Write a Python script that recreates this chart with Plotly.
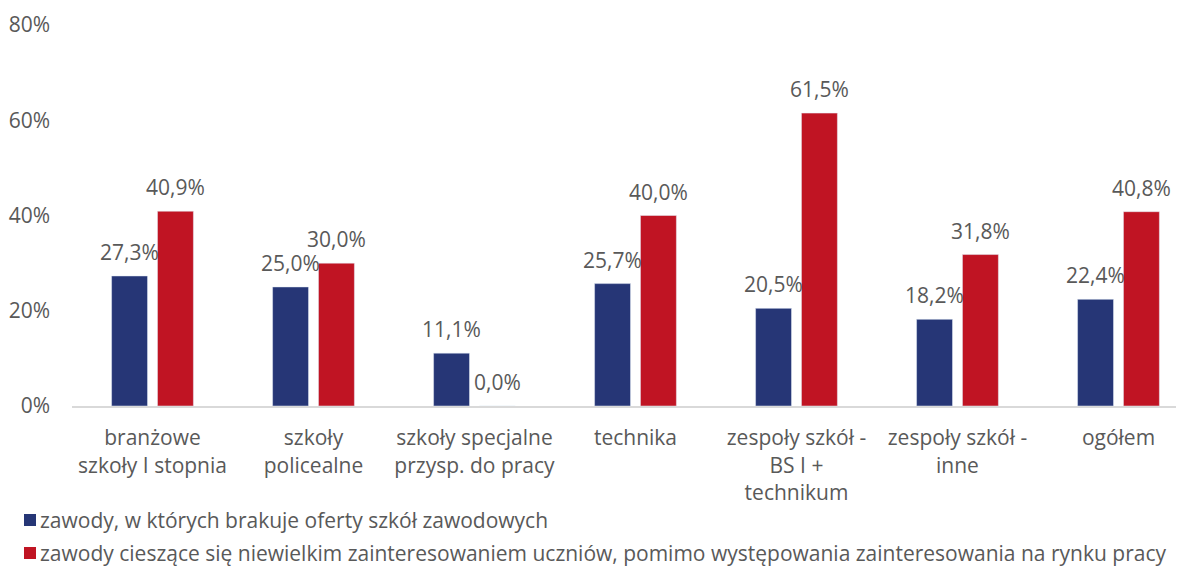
import plotly.graph_objects as go

categories = ["branżowe<br>szkoły I stopnia", "szkoły<br>policealne",
              "szkoły specjalne<br>przysp. do pracy", "technika",
              "zespoły szkół -<br>BS I +<br>technikum", "zespoły szkół -<br>inne", "ogółem"]
series_names = ["zawody, w których brakuje oferty szkół zawodowych",
                "zawody cieszące się niewielkim zainteresowaniem uczniów, pomimo występowania zainteresowania na rynku pracy"]
blue_vals = [0.273, 0.250, 0.111, 0.257, 0.205, 0.182, 0.224]
red_vals = [0.409, 0.300, 0.000, 0.400, 0.615, 0.318, 0.408]
y_ticks = [0, 0.2, 0.4, 0.6, 0.8]
y_tick_labels = ["0%", "20%", "40%", "60%", "80%"]

BLUE = "#263676"
RED = "#C01423"
TEXT = "#595959"
FONT = "Open Sans"
FS = 21

W, H = 1176, 559
L, T, B, R = 64, 17, 161, 0
PW, PH = W - L - R, H - T - B

x_idx = list(range(len(categories)))
colors = [BLUE, RED]
all_vals = [blue_vals, red_vals]

fig = go.Figure()
for name, vals, col in zip(series_names, all_vals, colors):
    fig.add_trace(go.Bar(x=x_idx, y=vals, name=name, marker_color=col, showlegend=False))

def fmt(v):
    return f"{v*100:.1f}%".replace(".", ",")

for vals, shift in zip(all_vals, (-23, 23)):
    for i, v in enumerate(vals):
        fig.add_annotation(x=i, y=v, text=fmt(v), showarrow=False, xshift=shift,
                           yanchor="bottom", yshift=8,
                           font=dict(family=FONT, size=FS, color=TEXT))

# legend drawn below the plot (pixel positions converted to paper coords)
def px_to_paper_x(px):
    return (px - L) / PW

def py_to_paper_y(py):
    return (T + PH - py) / PH

legend_rows_y = [512, 545]
for name, col, ry in zip(series_names, colors, legend_rows_y):
    fig.add_shape(type="rect", xref="paper", yref="paper",
                  xsizemode="pixel", ysizemode="pixel",
                  xanchor=px_to_paper_x(16), yanchor=py_to_paper_y(ry),
                  x0=0, x1=12, y0=-6, y1=6,
                  fillcolor=col, line_width=0)
    fig.add_annotation(xref="paper", yref="paper", x=px_to_paper_x(31),
                       y=py_to_paper_y(ry), xanchor="left", yanchor="middle",
                       text=name, showarrow=False, borderpad=0,
                       font=dict(family=FONT, size=FS, color=TEXT))

fig.update_layout(
    width=W, height=H,
    margin=dict(l=L, r=R, t=T, b=B, autoexpand=False),
    plot_bgcolor="white", paper_bgcolor="white",
    barmode="group", bargap=0.43, bargroupgap=0.217,
    font=dict(family=FONT, size=FS, color=TEXT),
    showlegend=False,
)
fig.update_xaxes(tickmode="array", tickvals=x_idx, ticktext=categories,
                 range=[-0.5, 6.407], showgrid=False, showline=True,
                 linecolor="#D9D9D9", linewidth=2, ticks="", ticklabelstandoff=12,
                 tickfont=dict(family=FONT, size=FS, color=TEXT))
fig.update_yaxes(range=[0, 0.8], tickvals=y_ticks, ticktext=y_tick_labels,
                 showgrid=False, zeroline=False, showline=False, ticks="",
                 ticklabelstandoff=21,
                 tickfont=dict(family=FONT, size=FS, color=TEXT))

fig.write_html("out.html")
